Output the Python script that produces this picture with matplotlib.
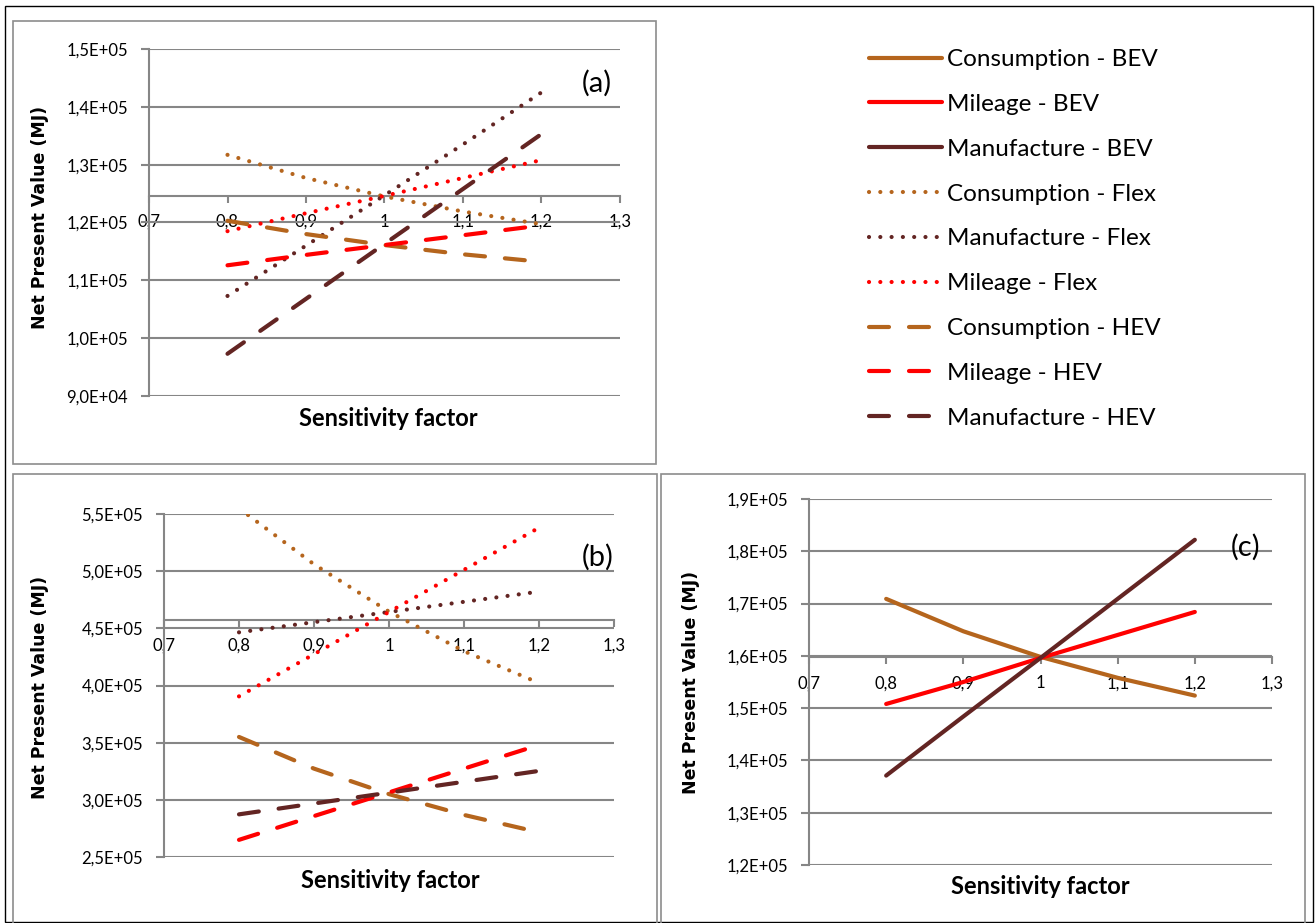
import numpy as np
import matplotlib.pyplot as plt
from matplotlib.patches import Rectangle
from matplotlib.ticker import FuncFormatter

# data
factor = [0.8, 0.9, 1.0, 1.1, 1.2]

# (a)
cons_flex_a = [131700, 127700, 124500, 121900, 119700]
manu_flex_a = [107300, 116000, 124700, 133500, 142500]
mile_flex_a = [118500, 121600, 124600, 127700, 130800]
cons_hev_a = [120300, 118000, 116100, 114500, 113200]
mile_hev_a = [112600, 114400, 116100, 117800, 119500]
manu_hev_a = [97300, 106800, 116300, 125800, 135300]

# (b)
cons_flex_b = [555000, 506000, 464600, 430000, 402200]
manu_flex_b = [446500, 455400, 464300, 473200, 482100]
mile_flex_b = [390500, 427400, 464300, 501200, 538000]
cons_hev_b = [355000, 327300, 305000, 286800, 271600]
mile_hev_b = [265000, 285800, 306500, 327300, 348000]
manu_hev_b = [287300, 296800, 306300, 315800, 325300]

# (c)
cons_bev = [170900, 164700, 159800, 155800, 152400]
mile_bev = [150800, 155000, 159600, 164000, 168400]
manu_bev = [137100, 148400, 159600, 170900, 182200]

BROWN = '#B5651D'
RED = '#FF0000'
DARK = '#632523'
GRID = '#868686'
FONT = 'Lato'

W, H = 1315, 923
fig = plt.figure(figsize=(W / 100, H / 100), dpi=100)


def px_axes(left, right, top, bottom):
    return fig.add_axes([left / W, 1 - bottom / H, (right - left) / W, (bottom - top) / H])


def box(x0, y0, x1, y1, color, lw):
    fig.patches.append(Rectangle((x0 / W, 1 - y1 / H), (x1 - x0) / W, (y1 - y0) / H,
                                 transform=fig.transFigure, fill=False,
                                 edgecolor=color, linewidth=lw))


LW = 3.0
DOT = (0, (0.01, 2.7))
DASH = (0, (4.8, 4.8))

sci_fmt = FuncFormatter(lambda v, p: f'{v:.1E}'.replace('.', ','))
x_fmt = FuncFormatter(lambda v, p: f'{v:g}'.replace('.', ','))


def style(ax, ymin, ymax, ystep, cross):
    ax.set_xlim(0.7, 1.3)
    ax.set_ylim(ymin, ymax)
    ax.set_xticks(np.arange(0.7, 1.31, 0.1))
    ax.set_yticks(np.arange(ymin, ymax + ystep / 2, ystep))
    ax.xaxis.set_major_formatter(x_fmt)
    ax.yaxis.set_major_formatter(sci_fmt)
    for s in ['top', 'right']:
        ax.spines[s].set_visible(False)
    ax.spines['left'].set_color(GRID)
    ax.spines['left'].set_linewidth(1.5)
    ax.spines['bottom'].set_color(GRID)
    ax.spines['bottom'].set_linewidth(1.5)
    ax.spines['bottom'].set_position(('data', cross))
    ax.yaxis.grid(True, color=GRID, linewidth=1.5)
    ax.set_axisbelow(True)
    ax.tick_params(axis='both', colors=GRID, width=1.5, direction='out',
                   labelcolor='black', labelsize=12)
    ax.tick_params(axis='y', length=6, pad=9)
    ax.tick_params(axis='x', length=5, pad=8)
    for t in ax.get_xticklabels() + ax.get_yticklabels():
        t.set_fontfamily(FONT)
    ax.patch.set_alpha(0)


def draw(ax, ys, color, ls, label):
    return ax.plot(factor, ys, color=color, linestyle=ls, linewidth=LW,
                   dash_capstyle='round', solid_capstyle='round',
                   label=label, zorder=3)[0]


# (a)
ax_a = px_axes(149, 620, 49, 396)
h_cf = draw(ax_a, cons_flex_a, BROWN, DOT, 'Consumption - Flex')
h_mf = draw(ax_a, manu_flex_a, DARK, DOT, 'Manufacture - Flex')
h_lf = draw(ax_a, mile_flex_a, RED, DOT, 'Mileage - Flex')
h_ch = draw(ax_a, cons_hev_a, BROWN, DASH, 'Consumption - HEV')
h_lh = draw(ax_a, mile_hev_a, RED, DASH, 'Mileage - HEV')
h_mh = draw(ax_a, manu_hev_a, DARK, DASH, 'Manufacture - HEV')
style(ax_a, 90000, 150000, 10000, 124600)

# (b)
ax_b = px_axes(164, 614, 514, 857)
draw(ax_b, cons_flex_b, BROWN, DOT, None)
draw(ax_b, manu_flex_b, DARK, DOT, None)
draw(ax_b, mile_flex_b, RED, DOT, None)
draw(ax_b, cons_hev_b, BROWN, DASH, None)
draw(ax_b, mile_hev_b, RED, DASH, None)
draw(ax_b, manu_hev_b, DARK, DASH, None)
style(ax_b, 250000, 550000, 50000, 457500)

# (c)
ax_c = px_axes(809, 1272, 499, 865)
h_cb = draw(ax_c, cons_bev, BROWN, '-', 'Consumption - BEV')
h_lb = draw(ax_c, mile_bev, RED, '-', 'Mileage - BEV')
h_mb = draw(ax_c, manu_bev, DARK, '-', 'Manufacture - BEV')
style(ax_c, 120000, 190000, 10000, 159700)

# axis titles and panel letters
for (x, y) in [(388, 418), (390, 880), (1040, 886)]:
    fig.text(x / W, 1 - y / H, 'Sensitivity factor', ha='center', va='center',
             fontsize=17, fontweight='bold', fontfamily=FONT)
for (x, y) in [(40, 217), (40, 687), (691, 682)]:
    fig.text(x / W, 1 - y / H, 'Net Present Value (MJ)', ha='center', va='center',
             rotation=90, fontsize=12.5, fontweight='bold', fontfamily='DejaVu Sans')
for (x, y, s) in [(597, 83, '(a)'), (598, 557, '(b)'), (1246, 547, '(c)')]:
    fig.text(x / W, 1 - y / H, s, ha='center', va='center', fontsize=21, fontfamily=FONT)

# legend
handles = [h_cb, h_lb, h_mb, h_cf, h_mf, h_lf, h_ch, h_lh, h_mh]
fig.legend(handles, [h.get_label() for h in handles], loc='upper left',
           bbox_to_anchor=(869 / W, 1 - 49 / H), frameon=False,
           prop={'family': FONT, 'size': 17.5}, handlelength=3.0,
           handletextpad=0.2, labelspacing=0.98, borderpad=0, borderaxespad=0)

# frames
box(5, 6, 1313, 922, 'black', 1.0)
box(13, 21, 656, 464, '#8C8C8C', 1.2)
box(13, 474, 657, 930, '#8C8C8C', 1.2)
box(661, 474, 1305, 930, '#8C8C8C', 1.2)

fig.savefig('out.png', dpi=100)
